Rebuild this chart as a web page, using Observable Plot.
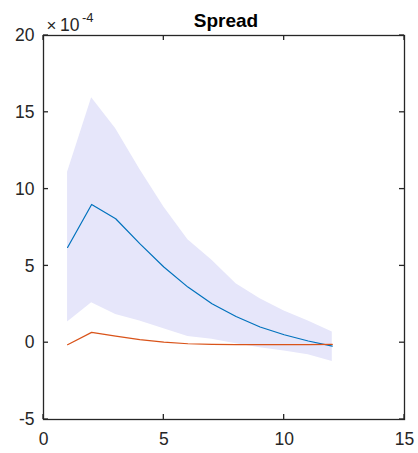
<!DOCTYPE html>
<html>
<head>
<meta charset="utf-8">
<script src="https://cdn.jsdelivr.net/npm/d3@7"></script>
<script src="https://cdn.jsdelivr.net/npm/@observablehq/plot@0.6"></script>
<style>
  html, body { margin: 0; padding: 0; background: #fff; }
</style>
</head>
<body>
<div id="chart"></div>
<script>
// horizon (periods)
const periods = [1, 2, 3, 4, 5, 6, 7, 8, 9, 10, 11, 12];
// values in units of 1e-4
const blueLine = [6.2, 9.0, 8.07, 6.45, 4.93, 3.62, 2.54, 1.71, 1.02, 0.52, 0.11, -0.22];
const bandUpper = [11.1, 15.95, 13.93, 11.3, 8.83, 6.7, 5.36, 3.84, 2.86, 2.06, 1.41, 0.69];
const bandLower = [1.35, 2.6, 1.84, 1.41, 0.91, 0.41, 0.22, -0.07, -0.33, -0.54, -0.78, -1.22];
const redLine = [-0.13, 0.67, 0.43, 0.2, 0.04, -0.07, -0.11, -0.13, -0.13, -0.13, -0.12, -0.11];

const xTicks = [0, 5, 10, 15];
const yTicks = [-5, 0, 5, 10, 15, 20];
const title = "Spread";
const timesSign = "\u00D7";
const exponentBase = "10";
const exponent = "-4";

const data = periods.map((p, i) => ({
  x: p, blue: blueLine[i], upper: bandUpper[i], lower: bandLower[i], red: redLine[i]
}));

const axisColor = "#262626";
const W = 418, H = 453, mL = 43, mR = 14, mT = 35, mB = 34;
const tickLen = 5;

const chart = Plot.plot({
  width: W,
  height: H,
  marginLeft: mL,
  marginRight: mR,
  marginTop: mT,
  marginBottom: mB,
  style: { fontFamily: "Liberation Sans, Arial, sans-serif", background: "#fff", color: axisColor },
  x: { domain: [0, 15], label: null },
  y: { domain: [-5, 20], label: null },
  marks: [
    Plot.areaY(data, { x: "x", y1: "lower", y2: "upper", fill: "#E6E6FA", fillOpacity: 1 }),
    Plot.lineY(data, { x: "x", y: "blue", stroke: "#0072BD", strokeWidth: 1.2 }),
    Plot.lineY(data, { x: "x", y: "red", stroke: "#D95319", strokeWidth: 1.2 }),
    Plot.frame({ stroke: axisColor, strokeWidth: 1.3 }),
    // tick labels
    Plot.axisX({ anchor: "bottom", ticks: xTicks, tickSize: 0, tickPadding: 13, fontSize: 17.5, fill: axisColor, label: null, tickFormat: d => String(d) }),
    Plot.axisY({ anchor: "left", ticks: yTicks, tickSize: 0, tickPadding: 9, fontSize: 17.5, fill: axisColor, label: null, tickFormat: d => String(d) }),
    Plot.text([title], { frameAnchor: "top", dx: 2, dy: -9, lineAnchor: "bottom", fontWeight: "bold", fontSize: 19, fill: "#000" }),
    Plot.text([timesSign], { frameAnchor: "top-left", dx: 3, dy: -5, lineAnchor: "bottom", textAnchor: "start", fontSize: 17, fill: axisColor }),
    Plot.text([exponentBase], { frameAnchor: "top-left", dx: 16.5, dy: -5, lineAnchor: "bottom", textAnchor: "start", fontSize: 17.5, fill: axisColor }),
    Plot.text([exponent], { frameAnchor: "top-left", dx: 38.5, dy: -14, lineAnchor: "bottom", textAnchor: "start", fontSize: 13, fill: axisColor })
  ]
});

// inward tick marks on all four sides, positioned with the plot's own scales
(function addTicks() {
  const xs = chart.scale("x"), ys = chart.scale("y");
  const xLeft = xs.apply(0), xRight = xs.apply(15), yBottom = ys.apply(-5), yTop = ys.apply(20);
  const g = d3.select(chart).append("g")
    .attr("stroke", axisColor).attr("stroke-width", 1.3).attr("fill", "none");
  yTicks.forEach(v => {
    const y = ys.apply(v);
    g.append("line").attr("x1", xLeft).attr("x2", xLeft + tickLen).attr("y1", y).attr("y2", y);
    g.append("line").attr("x1", xRight).attr("x2", xRight - tickLen).attr("y1", y).attr("y2", y);
  });
  xTicks.forEach(v => {
    const x = xs.apply(v);
    g.append("line").attr("x1", x).attr("x2", x).attr("y1", yBottom).attr("y2", yBottom - tickLen);
    g.append("line").attr("x1", x).attr("x2", x).attr("y1", yTop).attr("y2", yTop + tickLen);
  });
})();

document.getElementById("chart").appendChild(chart);
</script>
</body>
</html>
